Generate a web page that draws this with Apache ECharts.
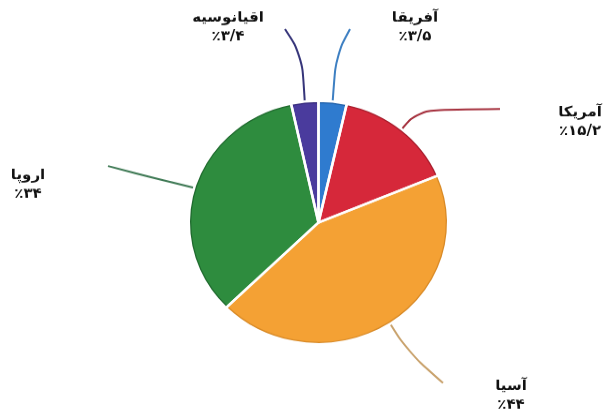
<!DOCTYPE html>
<html>
<head>
<meta charset="utf-8">
<script src="https://cdn.jsdelivr.net/npm/echarts@6/dist/echarts.min.js"></script>
<style>
  html, body { margin: 0; padding: 0; background: #fff; overflow: hidden; }
  #wrap { width: 609px; height: 419px; overflow: hidden; position: relative; }
  /* the pie is a little flatter than a circle: draw on a taller canvas and squash it */
  #chart { width: 609px; height: 447px; transform: scaleY(0.93736); transform-origin: 0 0; }
</style>
</head>
<body>
<div id="wrap"><div id="chart"></div></div>
<script>
// world population share by continent (percent)
const regions = ['آفریقا', 'آمریکا', 'آسیا', 'اروپا', 'اقیانوسیه'];
const shares = [3.5, 15.2, 44, 34, 3.4];

const sliceColors = ['#2f7bcf', '#d6283a', '#f4a134', '#2e8c3e', '#4a3b9d'];
const edgeColors  = ['#1f5fa8', '#a81d2c', '#d98a26', '#1f6a2e', '#33287a'];
const lineColors  = ['#3d7fc2', '#a5303d', '#c9a26c', '#3e7954', '#36357a'];

// vertical squash factor of the drawing
const FLAT = 419 / 447;
const CENTER = [318.5, 222.5 / FLAT];

// label centres and guide-line bend / end points, in page pixels
const labelAt   = [[415, 27], [580, 122], [511, 396], [28, 185], [228, 27]];
const guideBend = [[336, 55], [418, 110], [408, 352], [150, 177], [302, 55]];
const guideEnd  = [[350, 29], [500, 109], [443, 383], [108, 166], [285, 29]];

const toPage = p => [p[0], p[1] / FLAT];
const faDigits = v => String(v)
  .replace(/\d/g, d => '۰۱۲۳۴۵۶۷۸۹'[+d])
  .replace('.', '/');

const chart = echarts.init(document.getElementById('chart'), null, { renderer: 'canvas' });

const pieData = (withLines) => regions.map((name, i) => ({
  name: name,
  value: shares[i],
  itemStyle: withLines
    ? { color: sliceColors[i], borderColor: edgeColors[i], borderWidth: 2 }
    : { color: 'rgba(0,0,0,0)', borderColor: '#ffffff', borderWidth: 2.5 },
  labelLine: { lineStyle: { color: lineColors[i] } }
}));

chart.setOption({
  backgroundColor: '#ffffff',
  animation: false,
  series: [{
    // filled slices with a darker rim
    type: 'pie',
    center: CENTER,
    radius: 128.25,
    startAngle: 90,
    clockwise: true,
    avoidLabelOverlap: false,
    emphasis: { disabled: true },
    data: pieData(true),
    label: {
      show: true,
      position: 'outside',
      formatter: p => p.name + '\n' + '٪' + faDigits(p.value),
      fontFamily: 'DejaVu Sans',
      fontWeight: 'bold',
      fontSize: 15,
      lineHeight: 20,
      color: '#111111',
      align: 'center'
    },
    labelLine: { show: true, smooth: 0.4, lineStyle: { width: 2 } },
    labelLayout: p => {
      const i = p.dataIndex;
      const start = p.labelLinePoints ? p.labelLinePoints[0] : toPage(guideBend[i]);
      const at = toPage(labelAt[i]);
      return {
        x: at[0],
        y: at[1],
        align: 'center',
        verticalAlign: 'middle',
        labelLinePoints: [start, toPage(guideBend[i]), toPage(guideEnd[i])]
      };
    }
  }, {
    // white separators between the slices
    type: 'pie',
    center: CENTER,
    radius: 129.75,
    startAngle: 90,
    clockwise: true,
    silent: true,
    emphasis: { disabled: true },
    label: { show: false },
    labelLine: { show: false },
    data: pieData(false)
  }]
});
</script>
</body>
</html>
